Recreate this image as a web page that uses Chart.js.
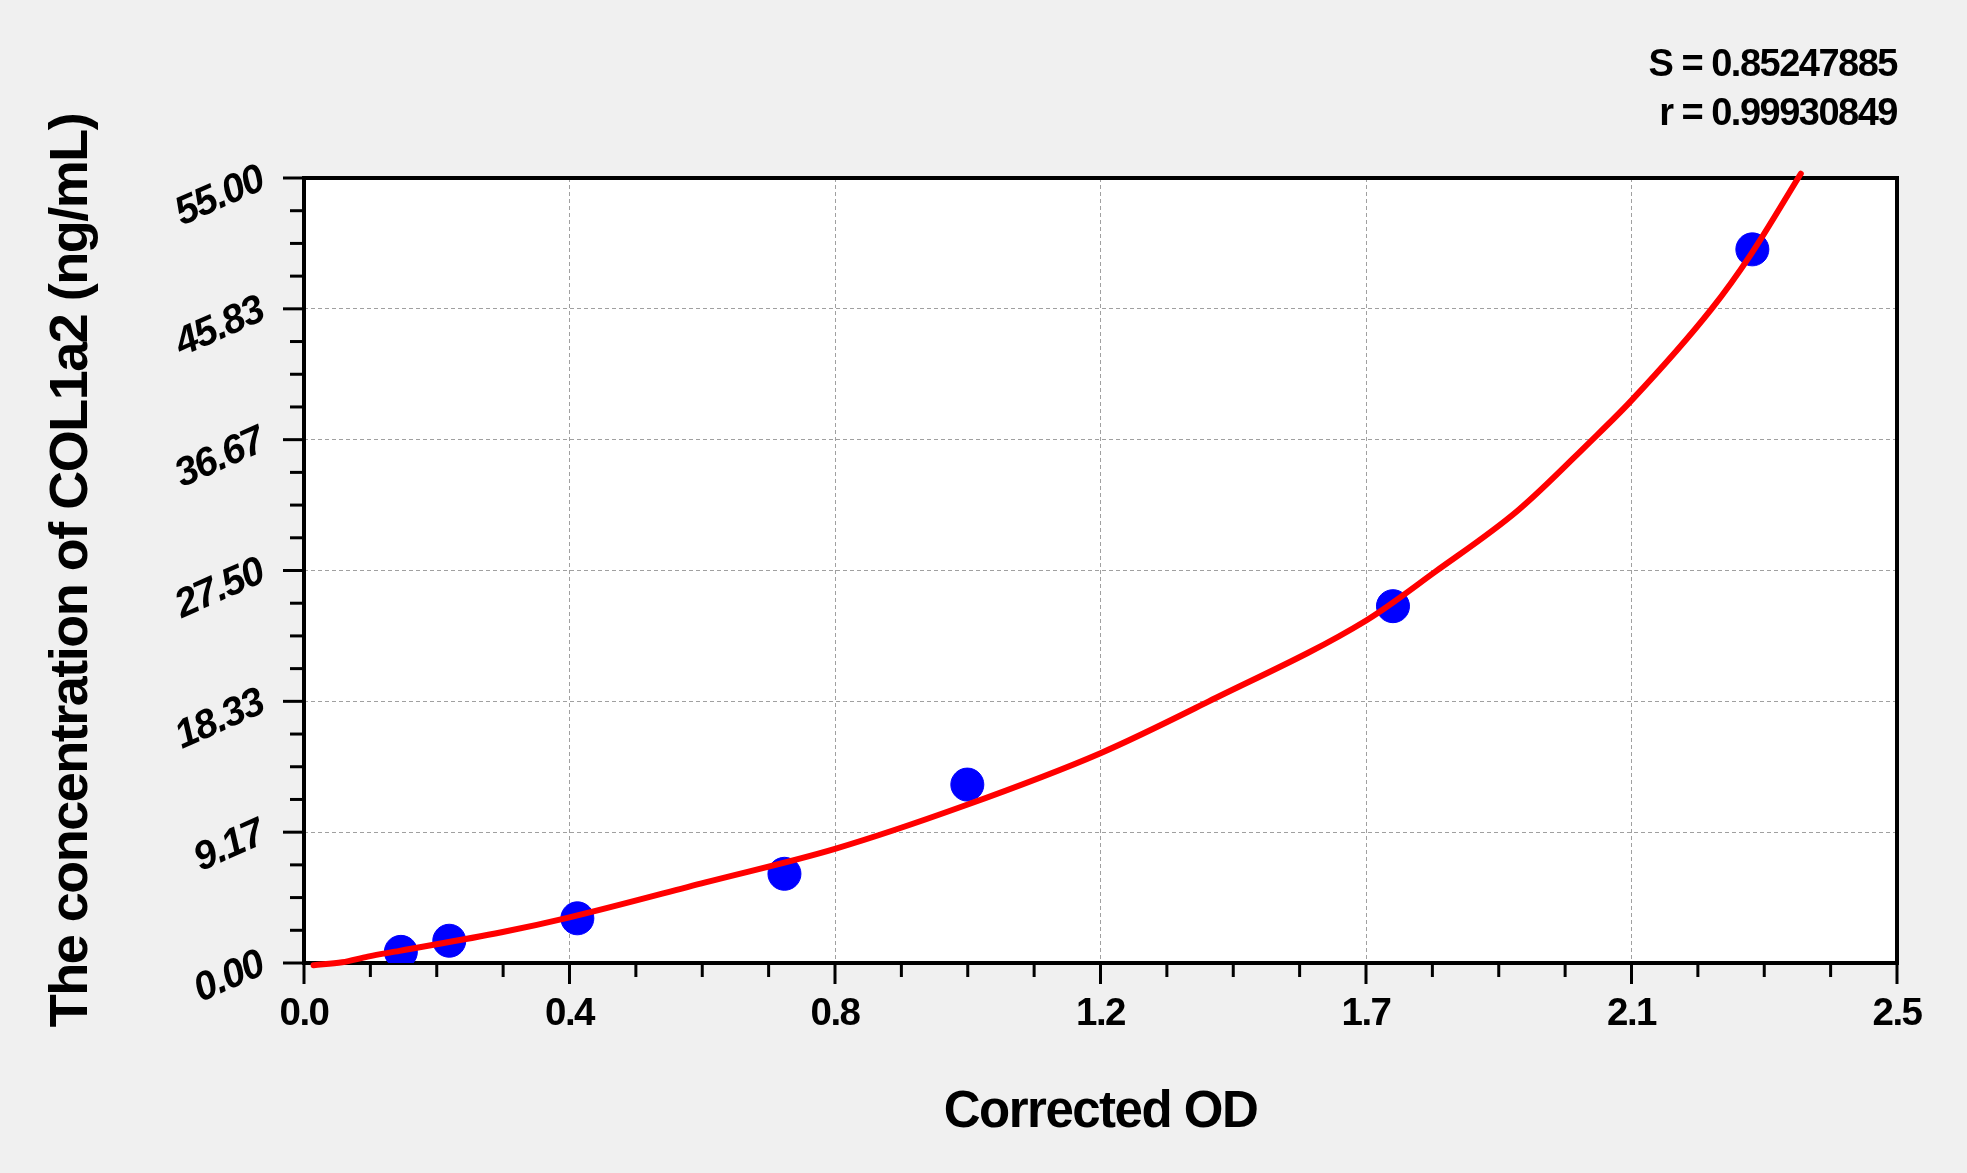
<!DOCTYPE html>
<html>
<head>
<meta charset="utf-8">
<title>COL1a2 standard curve</title>
<script src="https://cdn.jsdelivr.net/npm/chart.js@4.4.1/dist/chart.umd.min.js"></script>
<style>
  html, body { margin: 0; padding: 0; background: #f0f0f0; }
  #wrap { width: 1967px; height: 1173px; }
</style>
</head>
<body>
<div id="wrap"><canvas id="stdCurve"></canvas></div>
<script>
// standards (corrected OD vs concentration)
const odValues = [0.152, 0.228, 0.429, 0.754, 1.041, 1.709, 2.273];
const concValues = [0.78, 1.56, 3.13, 6.25, 12.5, 25, 50];

// fitted curve
const fitOd = [0.015, 0.06, 0.10, 0.15, 0.31, 0.4167, 0.63, 0.8333, 1.035, 1.25, 1.42, 1.667, 1.775, 1.905, 2.018, 2.083, 2.209, 2.27, 2.349];
const fitConc = [-0.15, 0.05, 0.45, 0.85, 2.15, 3.2, 5.65, 8.0, 11.0, 14.7, 18.33, 24.0, 27.4, 31.7, 36.5, 39.4, 45.83, 49.6, 55.3];

const xTickLabels = ['0.0', '0.4', '0.8', '1.2', '1.7', '2.1', '2.5'];
const yTickLabels = ['0.00', '9.17', '18.33', '27.50', '36.67', '45.83', '55.00'];
const statLines = ['S = 0.85247885', 'r = 0.99930849'];

const X_MAX = 2.5;
const Y_MAX = 55;
const MINOR_PER_MAJOR = 4;

Chart.defaults.font.family = '"Liberation Sans", Arial, sans-serif';
Chart.defaults.color = '#000';

// grey page, white plot box, black frame and the outer tick marks
const framePlugin = {
  id: 'frame',
  beforeDraw(chart) {
    const { ctx, chartArea: a } = chart;
    // the original text is set a little tight
    ctx.letterSpacing = '-1.5px';
    ctx.save();
    ctx.fillStyle = '#f0f0f0';
    ctx.fillRect(0, 0, chart.width, chart.height);
    ctx.fillStyle = '#ffffff';
    ctx.fillRect(a.left, a.top, a.right - a.left, a.bottom - a.top);
    ctx.restore();
  },
  beforeDatasetsDraw(chart) {
    const { ctx, chartArea: a, scales: { x, y } } = chart;
    ctx.save();
    ctx.strokeStyle = '#000';
    ctx.lineWidth = 3;
    const steps = (xTickLabels.length - 1) * MINOR_PER_MAJOR;
    for (let i = 0; i <= steps; i++) {
      const len = i % MINOR_PER_MAJOR === 0 ? 21 : 14;
      const px = x.getPixelForValue(i * X_MAX / steps);
      ctx.beginPath();
      ctx.moveTo(px, a.bottom);
      ctx.lineTo(px, a.bottom + len);
      ctx.stroke();
      const py = y.getPixelForValue(i * Y_MAX / steps);
      ctx.beginPath();
      ctx.moveTo(a.left, py);
      ctx.lineTo(a.left - len, py);
      ctx.stroke();
    }
    ctx.lineWidth = 4;
    ctx.strokeRect(a.left, a.top, a.right - a.left, a.bottom - a.top);
    ctx.restore();
  }
};

const ctx = document.getElementById('stdCurve').getContext('2d');
new Chart(ctx, {
  type: 'scatter',
  data: {
    datasets: [
      {
        label: 'Fit',
        data: fitOd.map((v, i) => ({ x: v, y: fitConc[i] })),
        showLine: true,
        borderColor: '#ff0000',
        borderWidth: 6,
        borderCapStyle: 'round',
        pointRadius: 0,
        cubicInterpolationMode: 'monotone',
        clip: false,
        order: 0,
      },
      {
        label: 'Standards',
        data: odValues.map((v, i) => ({ x: v, y: concValues[i] })),
        backgroundColor: '#0000ff',
        borderColor: '#0000ff',
        pointRadius: 16.5,
        order: 1,
      }
    ]
  },
  options: {
    responsive: true,
    maintainAspectRatio: false,
    animation: false,
    layout: {
      padding: { top: 0, right: 70, bottom: 0, left: 0 }
    },
    plugins: {
      legend: { display: false },
      tooltip: { enabled: false },
      title: {
        display: true,
        text: statLines,
        align: 'end',
        color: '#000',
        font: { size: 38, weight: 'bold', lineHeight: 49 / 38 },
        padding: { top: 41, bottom: 39 }
      }
    },
    scales: {
      x: {
        type: 'linear',
        min: 0,
        max: X_MAX,
        afterBuildTicks: (scale) => {
          scale.ticks = xTickLabels.map((t, i) => ({ value: i * X_MAX / (xTickLabels.length - 1) }));
        },
        afterFit: (scale) => {
          scale.height = 210;
          scale.paddingLeft = 0;
          scale.paddingRight = 0;
        },
        ticks: {
          autoSkip: false,
          maxRotation: 0,
          padding: 28.5,
          font: { size: 38.5, weight: 'bold' },
          callback: (value, index) => xTickLabels[index]
        },
        grid: { color: '#a0a0a0', lineWidth: 1, drawTicks: false },
        border: { display: false, dash: [4, 3] },
        title: {
          display: true,
          text: 'Corrected OD',
          font: { size: 51, weight: 'bold' },
          padding: { top: 0, bottom: 29 }
        }
      },
      y: {
        type: 'linear',
        min: 0,
        max: Y_MAX,
        afterBuildTicks: (scale) => {
          scale.ticks = yTickLabels.map((t, i) => ({ value: i * Y_MAX / (yTickLabels.length - 1) }));
        },
        afterFit: (scale) => {
          scale.width = 304;
          scale.paddingTop = 0;
          scale.paddingBottom = 0;
        },
        ticks: {
          autoSkip: false,
          minRotation: 24,
          maxRotation: 24,
          padding: 42,
          font: { size: 40, weight: 'bold', style: 'italic' },
          callback: (value, index) => yTickLabels[index]
        },
        grid: { color: '#a0a0a0', lineWidth: 1, drawTicks: false },
        border: { display: false, dash: [4, 3] },
        title: {
          display: true,
          text: 'The concentration of COL1a2 (ng/mL)',
          font: { size: 54, weight: 'bold' },
          padding: { top: 39.5 }
        }
      }
    }
  },
  plugins: [framePlugin]
});
</script>
</body>
</html>
